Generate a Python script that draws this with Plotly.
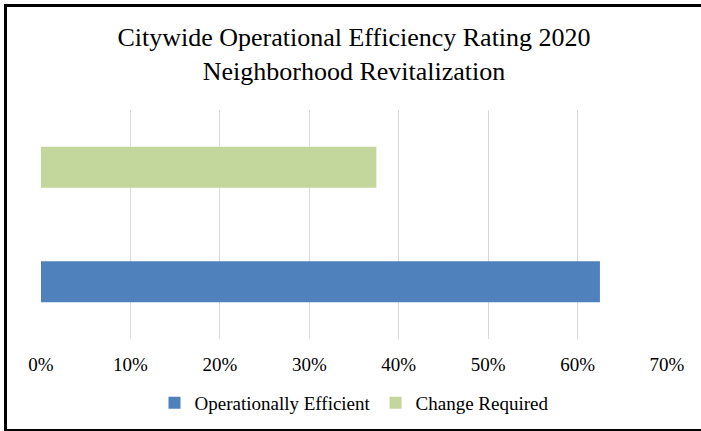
import plotly.graph_objects as go

series_names = ["Operationally Efficient", "Change Required"]
series_values = [0.625, 0.375]
series_colors = ["#4f81bd", "#c3d69b"]
tick_vals = [0, 0.1, 0.2, 0.3, 0.4, 0.5, 0.6, 0.7]
tick_text = ["0%", "10%", "20%", "30%", "40%", "50%", "60%", "70%"]

W, H = 701, 431
L, R, T, B = 41, 34, 110, 92
pw, ph = W - L - R, H - T - B
FONT = "Liberation Serif"

fig = go.Figure()
for i, (name, val, col) in enumerate(zip(series_names, series_values, series_colors)):
    fig.add_trace(go.Bar(
        x=[val], y=[i], name=name, orientation="h",
        marker=dict(color=col, line=dict(width=0)),
        width=0.36, hoverinfo="x+name",
    ))

def px_x(p):
    return (p - L) / pw

def px_y(p):
    return (H - B - p) / ph

fig.add_shape(type="rect", xref="paper", yref="paper",
              x0=px_x(5.5), x1=px_x(704), y0=px_y(430.5), y1=px_y(5.5),
              line=dict(color="black", width=3), fillcolor="rgba(0,0,0,0)", layer="above")

fig.update_layout(
    width=W, height=H,
    margin=dict(l=L, r=R, t=T, b=B, autoexpand=False),
    paper_bgcolor="white", plot_bgcolor="white",
    barmode="overlay",
    font=dict(family=FONT, color="#000000"),
    title=dict(
        text="Citywide Operational Efficiency Rating 2020<br>Neighborhood Revitalization",
        x=354 / W, xanchor="center", xref="container",
        y=1 - 46 / H, yanchor="middle", yref="container",
        font=dict(size=26, color="#000000", family=FONT),
    ),
    xaxis=dict(
        range=[0, 0.7], tickvals=tick_vals, ticktext=tick_text,
        showgrid=True, gridcolor="#d9d9d9", gridwidth=1,
        zeroline=False, showline=False, ticks="",
        ticklabelstandoff=12, automargin=False,
        tickfont=dict(size=19, color="#000000", family=FONT),
        fixedrange=True,
    ),
    yaxis=dict(
        range=[-0.5, 1.5], showticklabels=False, showgrid=False,
        zeroline=False, showline=False, ticks="", fixedrange=True,
        automargin=False,
    ),
    legend=dict(
        orientation="h", x=px_x(354), xanchor="center",
        y=px_y(403), yanchor="middle",
        font=dict(size=19, color="#000000", family=FONT),
        traceorder="normal", itemwidth=30,
    ),
    showlegend=True,
)

fig.write_html(
    "out.html",
    config={"displayModeBar": False},
    post_script="document.body.style.margin='0';document.body.style.padding='0';",
)
